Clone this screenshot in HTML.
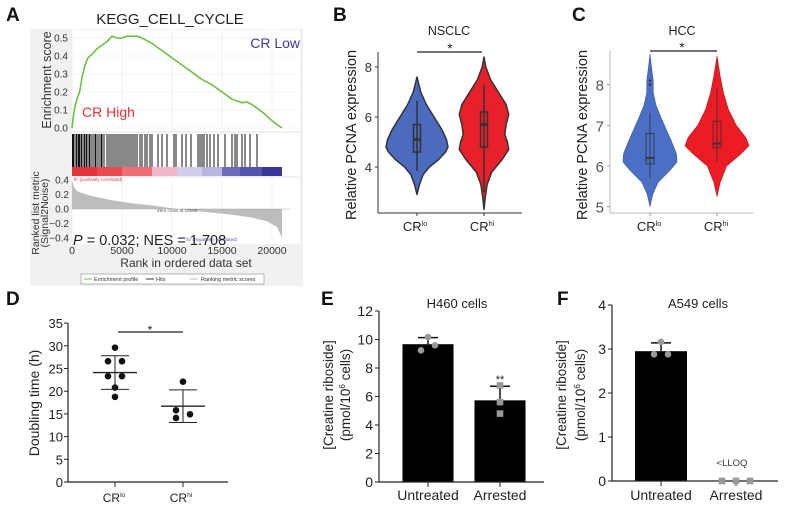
<!DOCTYPE html>
<html><head><meta charset="utf-8"><style>
html,body{margin:0;padding:0;background:#fff;}
svg{display:block;font-family:"Liberation Sans",Arial,sans-serif;}
</style></head><body>
<svg id="fig" width="787" height="509" viewBox="0 0 787 509" xmlns="http://www.w3.org/2000/svg">
<g font-weight="bold" font-size="19" fill="#111">
<text x="6" y="21">A</text>
<text x="333" y="21">B</text>
<text x="572" y="21">C</text>
<text x="6" y="305">D</text>
<text x="321" y="305">E</text>
<text x="557" y="305">F</text>
</g>
</svg>
<script>
// ---------- data ----------
const esRanks=[0,150,300,500,800,1000,1300,1600,2000,2500,3000,3500,4000,4500,5000,5500,6000,6500,7000,8000,9000,10000,11000,12000,13000,14000,15000,16000,17000,17500,18000,19000,20000,21000];
const esValues=[0,0.07,0.12,0.16,0.21,0.28,0.35,0.39,0.41,0.44,0.46,0.48,0.51,0.50,0.50,0.51,0.51,0.51,0.50,0.47,0.43,0.39,0.35,0.31,0.27,0.24,0.20,0.16,0.14,0.145,0.13,0.09,0.04,0];
const hitRanks=[50,150,300,450,600,700,800,950,1100,1250,1400,1500,1700,1800,2000,2200,2350,2500,2700,2900,3000,3200,3500,3700,3900,4100,4300,4500,4700,4900,5100,5300,5500,5700,5900,6100,6300,6500,6800,7000,7300,7500,7800,8000,8600,9000,9500,10200,10400,11000,11400,11900,12600,12800,13000,13200,13500,13800,14200,14600,15300,16000,16300,16500,17000,17300,17800,18500];
const metricRanks=[0,200,500,1000,2000,4000,6000,8000,10538,12000,14000,16000,18000,19500,20500,21000];
const metricValues=[0.4,0.3,0.25,0.22,0.18,0.12,0.08,0.05,0,-0.02,-0.05,-0.08,-0.12,-0.17,-0.25,-0.4];
const esTicks=[0,0.1,0.2,0.3,0.4,0.5];
const metricTicks=[-0.4,-0.2,0,0.2,0.4];
const rankTicks=[0,5000,10000,15000,20000];

const bLoY=[2.9,3.3,3.7,4.0,4.3,4.6,4.8,5.1,5.5,6.0,6.5,7.0,7.4,7.6];
const bLoD=[0,0.08,0.2,0.4,0.7,0.92,1.0,0.95,0.8,0.55,0.3,0.12,0.04,0];
const bHiY=[2.3,2.8,3.3,3.8,4.3,4.7,5.0,5.3,5.7,6.1,6.5,7.0,7.5,8.0,8.4];
const bHiD=[0,0.05,0.12,0.3,0.7,0.95,0.9,0.8,0.85,0.95,0.85,0.55,0.25,0.07,0];
const bLoBox=[3.85,4.6,5.1,5.7,6.65];
const bHiBox=[3.0,4.8,5.7,6.2,7.3];
const bTicks=[4,6,8];
const cLoY=[5.0,5.3,5.6,5.9,6.1,6.3,6.6,6.9,7.2,7.5,7.8,8.1,8.4,8.75];
const cLoD=[0,0.1,0.3,0.75,1.0,0.98,0.8,0.6,0.4,0.22,0.12,0.12,0.06,0];
const cHiY=[5.25,5.6,6.0,6.3,6.5,6.7,7.0,7.4,7.8,8.2,8.7];
const cHiD=[0,0.1,0.3,0.75,1.0,0.9,0.6,0.35,0.2,0.1,0];
const cLoBox=[5.7,6.05,6.2,6.8,7.3];
const cHiBox=[6.1,6.45,6.55,7.1,7.9];
const cLoOutliers=[8.0,8.1];
const cTicks=[5,6,7,8];

const dLo=[29.6,26.6,26.6,23.3,23.3,20.8,18.75];
const dHi=[22.1,15.8,14.1,14.9];
const dLoStats=[24.1,20.4,27.8];
const dHiStats=[16.7,13.1,20.3];
const dTicks=[0,5,10,15,20,25,30,35];

const eCats=["Untreated","Arrested"];
const eMeans=[9.67,5.73];
const eErr=[10.13,6.72];
const eUntreatedPts=[10.17,9.24,9.59];
const eArrestedPts=[6.78,5.61,4.8];
const eTicks=[0,2,4,6,8,10,12];
const fMeans=[2.95,0];
const fErr=[3.14,0];
const fUntreatedPts=[3.16,2.88,2.88];
const fArrestedPts=[0,0,0];
const fTicks=[0,1,2,3,4];

// ---------- helpers ----------
const svg=document.getElementById('fig');
const NS='http://www.w3.org/2000/svg';
function add(parent,tag,attrs,name,text){
  const el=document.createElementNS(NS,tag);
  for(const k in attrs) el.setAttribute(k,attrs[k]);
  
  
  if(text!==undefined) el.textContent=text;
  parent.appendChild(el);
  return el;
}
function grp(name){return add(svg,'g',{},name);}

// ---------- Panel A ----------
const A=grp('panel-a-gsea');
const xA=r=>72+r*0.01;
const yES=v=>128-v*180;
const yM=v=>209-v*72;
add(A,'rect',{x:30,y:29,width:273,height:257,fill:'#f1f1f1'},'gsea-background');
add(A,'rect',{x:72,y:30,width:228,height:101,fill:'#fff'},'es-plot-area');
add(A,'rect',{x:72,y:133,width:228,height:43,fill:'#fff'},'hits-area');
add(A,'rect',{x:72,y:178,width:228,height:66,fill:'#fff'},'metric-plot-area');
[0,5000,10000,15000,20000].forEach(r=>{add(A,'line',{x1:xA(r),x2:xA(r),y1:30,y2:131,stroke:'#eaeaea','stroke-width':0.6},'es-gridline');add(A,'line',{x1:xA(r),x2:xA(r),y1:178,y2:244,stroke:'#eaeaea','stroke-width':0.6},'metric-gridline');});
esTicks.forEach(v=>{add(A,'line',{x1:72,x2:300,y1:yES(v),y2:yES(v),stroke:'#eaeaea','stroke-width':0.6},'es-gridline');
  add(A,'text',{x:68,y:yES(v)+3.5,'font-size':10,'text-anchor':'end',fill:'#333'},'es-tick-label',v.toFixed(1));});
add(A,'text',{x:170,y:24,'font-size':15,'text-anchor':'middle',fill:'#222'},'gsea-title','KEGG_CELL_CYCLE');
add(A,'text',{transform:'translate(51,80) rotate(-90)','font-size':12.5,'text-anchor':'middle',fill:'#333'},'es-axis-title','Enrichment score');
let pts=esRanks.map((r,i)=>xA(r)+','+yES(esValues[i])).join(' ');
add(A,'polyline',{points:pts,fill:'none',stroke:'#6dbf45','stroke-width':1.6},'enrichment-profile-line');
add(A,'text',{x:300,y:48,'font-size':14,'text-anchor':'end',fill:'#3b3b97'},'cr-low-label','CR Low');
add(A,'text',{x:82,y:117,'font-size':14,fill:'#e5343a'},'cr-high-label','CR High');
hitRanks.forEach(r=>add(A,'line',{x1:xA(r),x2:xA(r),y1:134,y2:167,stroke:'#111','stroke-width':1},'hit-line'));
const barSegs=[[0,2500,'#e4323b'],[2500,5000,'#e84a50'],[5000,8000,'#ee6f73'],[8000,10500,'#f3b6c8'],[10500,13000,'#cfcdea'],[13000,15000,'#b8b6df'],[15000,16800,'#6e6cb9'],[16800,19000,'#5553ab'],[19000,21000,'#383799']];
barSegs.forEach(s=>add(A,'rect',{x:xA(s[0]),y:167,width:xA(s[1])-xA(s[0]),height:9,fill:s[2]},'ranked-color-bar-segment'));
let mp='M'+xA(0)+','+yM(0)+' '+metricRanks.map((r,i)=>'L'+xA(r)+','+yM(metricValues[i])).join(' ')+' L'+xA(21000)+','+yM(0)+' Z';
add(A,'path',{d:mp,fill:'#bdbdbd',stroke:'none'},'ranking-metric-area');
add(A,'line',{x1:72,x2:290,y1:yM(0),y2:yM(0),stroke:'#aaa','stroke-width':0.6},'metric-zero-line');
metricTicks.forEach(v=>add(A,'text',{x:69,y:yM(v)+3.5,'font-size':10,'text-anchor':'end',fill:'#333'},'metric-tick-label',(v<0?'\u2212':'')+Math.abs(v).toFixed(1)));
rankTicks.forEach(r=>add(A,'text',{x:xA(r),y:254,'font-size':10.5,'text-anchor':'middle',fill:'#333'},'rank-tick-label',String(r)));
add(A,'text',{x:186,y:267,'font-size':12,'text-anchor':'middle',fill:'#333'},'rank-axis-title','Rank in ordered data set');
add(A,'text',{transform:'translate(39,213) rotate(-90)','font-size':10.5,'text-anchor':'middle',fill:'#333'},'metric-axis-title','Ranked list metric');
add(A,'text',{transform:'translate(48,213) rotate(-90)','font-size':10.5,'text-anchor':'middle',fill:'#333'},'metric-axis-title-2','(Signal2Noise)');
add(A,'text',{x:73,y:181,'font-size':4.5,fill:'#e5343a'},'positive-label',"'hi' (positively correlated)");
add(A,'text',{x:157,y:212,'font-size':4.5,fill:'#555'},'zero-cross-label','Zero cross at 10538');
add(A,'text',{x:186,y:241,'font-size':4.5,fill:'#5555aa'},'negative-label',"'lo' (negatively correlated)");
const pt=add(A,'text',{x:73,y:245,'font-size':14.5,fill:'#222'},'p-nes-annotation');
add(pt,'tspan',{'font-style':'italic'},'p-symbol','P');
add(pt,'tspan',{},'p-nes-text',' = 0.032; NES = 1.708');
add(A,'rect',{x:81,y:274,width:183,height:10,fill:'#fff',stroke:'#888','stroke-width':0.6},'gsea-legend-box');
add(A,'line',{x1:84,x2:92,y1:279,y2:279,stroke:'#6dbf45','stroke-width':1},'legend-enrichment-swatch');
add(A,'text',{x:94,y:281,'font-size':5.5,fill:'#333'},'legend-enrichment-profile','Enrichment profile');
add(A,'line',{x1:146,x2:154,y1:279,y2:279,stroke:'#333','stroke-width':1},'legend-hits-swatch');
add(A,'text',{x:156,y:281,'font-size':5.5,fill:'#333'},'legend-hits','Hits');
add(A,'line',{x1:190,x2:198,y1:279,y2:279,stroke:'#bbb','stroke-width':1},'legend-metric-swatch');
add(A,'text',{x:201,y:281,'font-size':5.5,fill:'#333'},'legend-ranking-metric','Ranking metric scores');

// ---------- violin helpers ----------
function violin(g,cx,ys,ds,maxW,yf,fill,stroke,sw,name){
  let right=ys.map((v,i)=>[cx+ds[i]*maxW,yf(v)]);
  let left=ys.map((v,i)=>[cx-ds[i]*maxW,yf(v)]).reverse();
  let all=right.concat(left);
  add(g,'polygon',{points:all.map(p=>p.join(',')).join(' '),fill:fill,stroke:stroke,'stroke-width':sw,'stroke-linejoin':'round'},name);
}
function box(g,cx,b,yf,w,stroke,sw,name){
  add(g,'line',{x1:cx,x2:cx,y1:yf(b[0]),y2:yf(b[4]),stroke:stroke,'stroke-width':sw},name+'-whisker');
  add(g,'rect',{x:cx-w/2,y:yf(b[3]),width:w,height:yf(b[1])-yf(b[3]),fill:'none',stroke:stroke,'stroke-width':sw},name+'-box');
  add(g,'line',{x1:cx-w/2,x2:cx+w/2,y1:yf(b[2]),y2:yf(b[2]),stroke:stroke,'stroke-width':sw+1},name+'-median');
}
function catLabel(g,x,y,sup,name,fs){
  const t=add(g,'text',{x:x,y:y,'font-size':fs,'text-anchor':'middle',fill:'#222'},name);
  add(t,'tspan',{},name+'-base','CR');
  add(t,'tspan',{'font-size':fs*0.55,dy:-fs*0.4},name+'-sup',sup);
}

// ---------- Panel B ----------
const B=grp('panel-b-nsclc');
const yB=v=>117-(v-6)*25;
add(B,'text',{x:449,y:35,'font-size':12.5,'text-anchor':'middle',fill:'#222'},'nsclc-title','NSCLC');
add(B,'line',{x1:417,x2:482,y1:52,y2:52,stroke:'#222','stroke-width':1.3},'significance-bar');
add(B,'text',{x:450,y:53,'font-size':14,'text-anchor':'middle',fill:'#222'},'significance-star','*');
add(B,'line',{x1:378,x2:378,y1:52,y2:213,stroke:'#333','stroke-width':1},'y-axis');
add(B,'line',{x1:378,x2:522,y1:213,y2:213,stroke:'#333','stroke-width':1},'x-axis');
bTicks.forEach(v=>{add(B,'line',{x1:375,x2:378,y1:yB(v),y2:yB(v),stroke:'#333'},'y-tick');add(B,'text',{x:372,y:yB(v)+5,'font-size':13,'text-anchor':'end',fill:'#333'},'y-tick-label',String(v));});
add(B,'text',{transform:'translate(356,135) rotate(-90)','font-size':14.5,'text-anchor':'middle',fill:'#222'},'y-axis-title','Relative PCNA expression');
violin(B,417,bLoY,bLoD,31,yB,'#4a6bbf','#333',1.5,'violin-cr-lo');
violin(B,484,bHiY,bHiD,26,yB,'#e8202a','#333',1.5,'violin-cr-hi');
box(B,417,bLoBox,yB,7,'#333',1.5,'boxplot-cr-lo');
box(B,484,bHiBox,yB,7,'#333',1.5,'boxplot-cr-hi');
[417,484].forEach(x=>add(B,'line',{x1:x,x2:x,y1:213,y2:216,stroke:'#333'},'x-tick'));
catLabel(B,415,231,'lo','x-label-cr-lo',13);catLabel(B,482,231,'hi','x-label-cr-hi',13);

// ---------- Panel C ----------
const C=grp('panel-c-hcc');
const yC=v=>166-(v-6)*40.7;
add(C,'text',{x:682,y:35,'font-size':12.5,'text-anchor':'middle',fill:'#222'},'hcc-title','HCC');
add(C,'line',{x1:650,x2:717,y1:51,y2:51,stroke:'#222','stroke-width':1.3},'significance-bar');
add(C,'text',{x:682,y:52,'font-size':14,'text-anchor':'middle',fill:'#222'},'significance-star','*');
add(C,'line',{x1:610,x2:610,y1:50,y2:213,stroke:'#bbb','stroke-width':1},'y-axis');
add(C,'line',{x1:610,x2:753,y1:213,y2:213,stroke:'#bbb','stroke-width':1},'x-axis');
cTicks.forEach(v=>{add(C,'line',{x1:607,x2:610,y1:yC(v),y2:yC(v),stroke:'#999'},'y-tick');add(C,'text',{x:604,y:yC(v)+6,'font-size':15,'text-anchor':'end',fill:'#555'},'y-tick-label',String(v));});
add(C,'text',{transform:'translate(587,135) rotate(-90)','font-size':14.5,'text-anchor':'middle',fill:'#222'},'y-axis-title','Relative PCNA expression');
violin(C,650,cLoY,cLoD,27,yC,'#4b6fc4','#3a55a0',0.6,'violin-cr-lo');
violin(C,717,cHiY,cHiD,32,yC,'#ec1c24','#b01010',0.6,'violin-cr-hi');
box(C,650,cLoBox,yC,8,'#333',0.8,'boxplot-cr-lo');
box(C,717,cHiBox,yC,8,'#333',0.8,'boxplot-cr-hi');
cLoOutliers.forEach(v=>add(C,'circle',{cx:650,cy:yC(v),r:1.2,fill:'#333'},'outlier-point'));
[650,717].forEach(x=>add(C,'line',{x1:x,x2:x,y1:213,y2:216,stroke:'#999'},'x-tick'));
catLabel(C,649,231,'lo','x-label-cr-lo',13);catLabel(C,716,231,'hi','x-label-cr-hi',13);

// ---------- Panel D ----------
const D=grp('panel-d-doubling');
const yD=v=>482-v*4.54;
add(D,'line',{x1:68,x2:68,y1:yD(35),y2:482,stroke:'#222','stroke-width':1.2},'y-axis');
add(D,'line',{x1:68,x2:228,y1:482,y2:482,stroke:'#222','stroke-width':1.2},'x-axis');
dTicks.forEach(v=>{add(D,'line',{x1:64,x2:68,y1:yD(v),y2:yD(v),stroke:'#222'},'y-tick');add(D,'text',{x:63,y:yD(v)+5,'font-size':13,'text-anchor':'end',fill:'#222'},'y-tick-label',String(v));});
add(D,'text',{transform:'translate(39,403) rotate(-90)','font-size':14,'text-anchor':'middle',fill:'#222'},'y-axis-title','Doubling time (h)');
add(D,'line',{x1:118,x2:183,y1:332,y2:332,stroke:'#222','stroke-width':1.2},'significance-bar');
add(D,'text',{x:150,y:334,'font-size':12,'text-anchor':'middle',fill:'#222'},'significance-star','*');
const dLoOff=[0,-7,7,-7,7,0,0],dHiOff=[0,-7,-7,7];
dLo.forEach((v,i)=>add(D,'circle',{cx:115+dLoOff[i],cy:yD(v),r:3.3,fill:'#111'},'point-cr-lo'));
dHi.forEach((v,i)=>add(D,'circle',{cx:183+dHiOff[i],cy:yD(v),r:3.3,fill:'#111'},'point-cr-hi'));
[[115,dLoStats],[183,dHiStats]].forEach(([cx,s])=>{
  add(D,'line',{x1:cx-22,x2:cx+22,y1:yD(s[0]),y2:yD(s[0]),stroke:'#222','stroke-width':1.3},'mean-line');
  add(D,'line',{x1:cx,x2:cx,y1:yD(s[1]),y2:yD(s[2]),stroke:'#222','stroke-width':1},'sd-line');
  add(D,'line',{x1:cx-14,x2:cx+14,y1:yD(s[1]),y2:yD(s[1]),stroke:'#222','stroke-width':1},'sd-cap');
  add(D,'line',{x1:cx-14,x2:cx+14,y1:yD(s[2]),y2:yD(s[2]),stroke:'#222','stroke-width':1},'sd-cap');
  add(D,'line',{x1:cx,x2:cx,y1:482,y2:487,stroke:'#222'},'x-tick');
});
catLabel(D,114,502,'lo','x-label-cr-lo',12);catLabel(D,181,502,'hi','x-label-cr-hi',12);

// ---------- Panels E & F ----------
function barPanel(name,ax,ax2,yf,ticks,cx,means,err,ptsU,ptsA,title,tx,yl1,yl2,bw){
  const G=grp(name);
  add(G,'text',{x:tx,y:308,'font-size':13,'text-anchor':'middle',fill:'#222'},'panel-title',title);
  add(G,'line',{x1:ax,x2:ax,y1:yf(ticks[ticks.length-1]),y2:yf(0),stroke:'#222','stroke-width':1.2},'y-axis');
  ticks.forEach(v=>{add(G,'line',{x1:ax-4,x2:ax,y1:yf(v),y2:yf(v),stroke:'#222'},'y-tick');add(G,'text',{x:ax-6,y:yf(v)+5,'font-size':14,'text-anchor':'end',fill:'#222'},'y-tick-label',String(v));});
  add(G,'text',{transform:'translate('+yl1+',395) rotate(-90)','font-size':13.5,'text-anchor':'middle',fill:'#222'},'y-axis-title-line1','[Creatine riboside]');
  const t2=add(G,'text',{transform:'translate('+yl2+',395) rotate(-90)','font-size':13.5,'text-anchor':'middle',fill:'#222'},'y-axis-title-line2');
  add(t2,'tspan',{},'y-axis-title-unit','(pmol/10');add(t2,'tspan',{'font-size':8,dy:-5},'y-axis-title-exp','6');add(t2,'tspan',{dy:5},'y-axis-title-cells',' cells)');
  means.forEach((m,i)=>{ if(m>0) add(G,'rect',{x:cx[i]-bw/2,y:yf(m),width:bw,height:yf(0)-yf(m),fill:'#000'},'bar-'+eCats[i].toLowerCase());
    if(err[i]>0){add(G,'line',{x1:cx[i],x2:cx[i],y1:yf(err[i]),y2:yf(m),stroke:'#111','stroke-width':1.5},'error-bar');
      add(G,'line',{x1:cx[i]-10,x2:cx[i]+10,y1:yf(err[i]),y2:yf(err[i]),stroke:'#111','stroke-width':1.5},'error-cap');}
    add(G,'line',{x1:cx[i],x2:cx[i],y1:yf(0),y2:yf(0)+5,stroke:'#222'},'x-tick');
    add(G,'text',{x:cx[i],y:500,'font-size':14,'text-anchor':'middle',fill:'#222'},'x-label-'+eCats[i].toLowerCase(),eCats[i]);});
  add(G,'line',{x1:ax,x2:ax2,y1:yf(0),y2:yf(0),stroke:'#222','stroke-width':1.2},'x-axis');
  const offU=[0,-7,7];
  ptsU.forEach((v,i)=>add(G,'circle',{cx:cx[0]+offU[i],cy:yf(v),r:3.3,fill:'#999'},'point-untreated'));
  return G;
}
const yE=v=>482-v*14.25;
const E=barPanel('panel-e-h460',379,544,yE,eTicks,[428,500],eMeans,eErr,eUntreatedPts,eArrestedPts,'H460 cells',457,333,350,51);
eArrestedPts.forEach(v=>add(E,'rect',{x:500-3.3,y:yE(v)-3.3,width:6.6,height:6.6,fill:'#999'},'point-arrested'));
add(E,'text',{x:500,y:383,'font-size':11,'text-anchor':'middle',fill:'#222'},'significance-stars','**');
const yF=v=>481-v*44;
const F=barPanel('panel-f-a549',612,778,yF,fTicks,[661,736],fMeans,fErr,fUntreatedPts,fArrestedPts,'A549 cells',698,566,585,52);
const fOff=[-14,0,14];
fArrestedPts.forEach((v,i)=>add(F,'rect',{x:736+fOff[i]-3.3,y:yF(v)-3.3,width:6.6,height:6.6,fill:'#999'},'point-arrested'));
add(F,'text',{x:732,y:466,'font-size':9.5,'text-anchor':'middle',fill:'#333'},'lloq-label','<LLOQ');
</script>
</body></html>
